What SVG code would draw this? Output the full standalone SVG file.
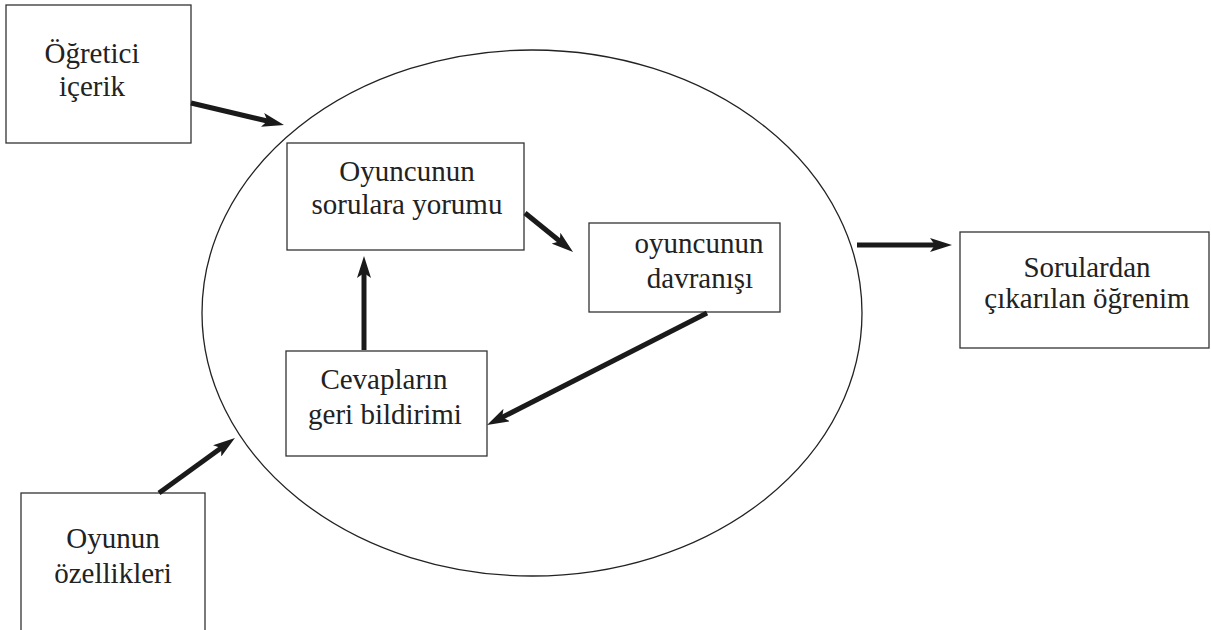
<svg xmlns="http://www.w3.org/2000/svg" width="1211" height="630" viewBox="0 0 1211 630">
<style>
.box{fill:#fff;stroke:#333;stroke-width:1.3}
.lbl{font-family:"Liberation Serif","Times New Roman",serif;font-size:29px;fill:#222;text-anchor:middle}
.arr{stroke:#1a1a1a;stroke-width:5;fill:none;marker-end:url(#ah)}
.ell{fill:none;stroke:#222;stroke-width:1.3}
</style>
<defs>
<marker id="ah" viewBox="0 0 22 14" markerWidth="22" markerHeight="14" refX="7" refY="7" markerUnits="userSpaceOnUse" orient="auto">
<path d="M0,0 L22,7 L0,14 L5,7 z" fill="#1a1a1a"/>
</marker>
</defs>
<rect width="1211" height="630" fill="#fff"/>
<ellipse class="ell" cx="532" cy="313" rx="330" ry="263"/>
<g id="n1"><rect class="box" x="6" y="5" width="185" height="138"/><text class="lbl" x="92" y="63">Öğretici</text><text class="lbl" x="92" y="96">içerik</text></g>
<g id="n2"><rect class="box" x="21" y="493" width="184" height="160"/><text class="lbl" x="113" y="548">Oyunun</text><text class="lbl" x="113" y="583">özellikleri</text></g>
<g id="n3"><rect class="box" x="287" y="143" width="237" height="107"/><text class="lbl" x="407" y="181">Oyuncunun</text><text class="lbl" x="407" y="214">sorulara yorumu</text></g>
<g id="n4"><rect class="box" x="589" y="223" width="191" height="89"/><text class="lbl" x="699" y="253">oyuncunun</text><text class="lbl" x="700" y="288">davranışı</text></g>
<g id="n5"><rect class="box" x="286" y="351" width="201" height="105"/><text class="lbl" x="384" y="389">Cevapların</text><text class="lbl" x="385" y="424">geri bildirimi</text></g>
<g id="n6"><rect class="box" x="960" y="232" width="249" height="116"/><text class="lbl" x="1087" y="277">Sorulardan</text><text class="lbl" x="1087" y="308">çıkarılan öğrenim</text></g>
<g id="connectors">
<line class="arr" x1="191" y1="103" x2="269.4" y2="121.5"/>
<line class="arr" x1="159" y1="493" x2="222.8" y2="446.8"/>
<line class="arr" x1="525" y1="213" x2="561.4" y2="242.5"/>
<line class="arr" x1="707" y1="313" x2="500.4" y2="418.2"/>
<line class="arr" x1="364" y1="350" x2="364" y2="271"/>
<line class="arr" x1="857" y1="245" x2="937" y2="245"/>
</g>
</svg>
